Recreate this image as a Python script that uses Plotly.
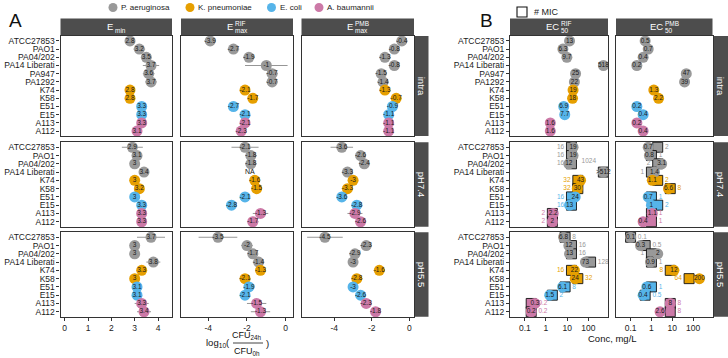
import numpy as np
import plotly.graph_objects as go

# ---------------- data ----------------
strains_intra = ["ATCC27853", "PAO1", "PA04/202", "PA14 Liberati", "PA947", "PA1292",
                 "K74", "K58", "E51", "E15", "A113", "A112"]
strains_ph = ["ATCC27853", "PAO1", "PA04/202", "PA14 Liberati",
              "K74", "K58", "E51", "E15", "A113", "A112"]
species_intra = ["P", "P", "P", "P", "P", "P", "K", "K", "E", "E", "A", "A"]
species_ph = ["P", "P", "P", "P", "K", "K", "E", "E", "A", "A"]

species_names = {"P": "P. aeruginosa", "K": "K. pneumoniae", "E": "E. coli", "A": "A. baumannii"}
species_colors = {"P": "#999999", "K": "#E69F00", "E": "#56B4E9", "A": "#CC79A7"}
conditions = ["intra", "pH7.4", "pH5.5"]

# Panel A: log10(CFU24h/CFU0h)
emin_intra = [2.8, 3.2, 3.5, 3.7, 3.6, 3.7, 2.8, 2.8, 3.3, 3.3, 3.3, 3.1]
emin_ph74 = [2.9, 3.1, 3.0, 3.4, 3.0, 3.2, 3.0, 3.3, 3.3, 3.3]
emin_ph55 = [3.7, 3.0, 3.0, 3.8, 3.3, 3.0, 3.1, 3.1, 3.3, 3.4]
emin_err_intra = [0.1, 0.25, 0.1, 0.35, 0.25, 0.25, 0, 0, 0, 0, 0, 0]
emin_err_ph74 = [0.45, 0, 0, 0, 0, 0, 0, 0.2, 0, 0]
emin_err_ph55 = [0.6, 0, 0, 0.3, 0, 0, 0, 0, 0.3, 0.3]

rif_intra = [-3.9, -2.7, -1.9, -1.0, -0.7, -0.7, -2.1, -1.7, -2.7, -2.1, -2.1, -2.3]
rif_ph74 = [-2.1, -1.8, -1.8, np.nan, -1.6, -1.5, -2.1, -2.8, -1.3, -1.7]
rif_ph55 = [-3.5, -2.0, -1.7, -1.4, -1.3, -2.1, -1.9, -2.1, -1.5, -1.3]
rif_err_intra = [0.3, 0.3, 0.3, 1.1, 0.3, 0.3, 0, 0, 0, 0, 0, 0]
rif_err_ph74 = [0.7, 0.3, 0.3, 0, 0, 0, 0, 0, 0.4, 0.3]
rif_err_ph55 = [1.0, 0.3, 0, 0.3, 0, 0.3, 0, 0, 0.5, 0.5]

pmb_intra = [-0.4, -0.8, -1.3, -0.8, -1.5, -1.4, -1.3, -0.7, -0.9, -1.1, -1.1, -1.1]
pmb_ph74 = [-3.6, -2.6, -2.4, -3.3, -3.0, -3.3, -3.6, -2.8, -2.9, -2.6]
pmb_ph55 = [-4.5, -2.3, -2.9, -3.0, -1.6, -2.8, -3.0, -2.6, -2.3, -1.8]
pmb_err_intra = [0.3, 0.2, 0.3, 0.3, 0.3, 0.3, 0.3, 0.3, 0.2, 0, 0, 0]
pmb_err_ph74 = [0.6, 0.2, 0, 0.3, 0, 0.3, 0, 0.3, 0.4, 0.3]
pmb_err_ph55 = [0.95, 0.3, 0.3, 0, 0.3, 0.3, 0, 0, 0.3, 0.3]

# Panel B: EC50 and MIC (mg/L)
ec50_rif_intra = [13, 6.3, 9.7, 518, 25, 22, 19, 18, 6.9, 7.7, 1.6, 1.6]
ec50_pmb_intra = [0.5, 0.7, 0.4, 0.2, 47, 39, 1.3, 2.2, 0.2, 0.4, 0.2, 0.4]
ec50_rif_ph74 = [19, 19, 12, 512, 43, 30, 24, 13, 2.2, 2]
mic_rif_ph74 = [16, 16, 16, 1024, 32, 32, 16, 16, 2, 2]
ec50_pmb_ph74 = [0.7, 0.8, 3.1, 1.4, 1.1, 6.6, 0.7, 1, 1.1, 0.4]
mic_pmb_ph74 = [2, 1, 2, 1, 2, 8, 1, 2, 1, 1]
ec50_rif_ph55 = [6.8, 12, 13, 73, 22, 24, 6.1, 1.5, 0.3, 0.2]
mic_rif_ph55 = [8, 16, 16, 128, 16, 32, 8, 2, 0.2, 0.2]
ec50_pmb_ph55 = [0.1, 0.3, 2, 0.9, 12, 200, 0.6, 0.4, 8, 2.6]
mic_pmb_ph55 = [0.1, 0.5, 1, 1, 8, 64, 1, 0.5, 8, 8]
censored_ec50 = {("rif", "pH7.4", "PA14 Liberati")}
ec50_err_factor = {("rif", "intra", "PA14 Liberati"): 1.5, ("pmb", "intra", "ATCC27853"): 1.4,
                   ("rif", "pH5.5", "PA14 Liberati"): 1.3}

# ---------------- layout helpers ----------------
W, H = 728, 358
FONT = "Liberation Sans, Arial, sans-serif"


def fx(x):
    return x / W


def fy(y):
    return 1 - y / H


col_px = {"A1": (60.5, 172), "A2": (181, 293), "A3": (301.5, 414),
          "B1": (510, 608), "B2": (616, 712.5)}
row_px = [(36, 136), (142.3, 226.7), (232.3, 316.7)]
cols = ["A1", "A2", "A3", "B1", "B2"]

panelA = {
    "A1": [(emin_intra, emin_err_intra), (emin_ph74, emin_err_ph74), (emin_ph55, emin_err_ph55)],
    "A2": [(rif_intra, rif_err_intra), (rif_ph74, rif_err_ph74), (rif_ph55, rif_err_ph55)],
    "A3": [(pmb_intra, pmb_err_intra), (pmb_ph74, pmb_err_ph74), (pmb_ph55, pmb_err_ph55)],
}
panelB = {
    "B1": [(ec50_rif_intra, None), (ec50_rif_ph74, mic_rif_ph74), (ec50_rif_ph55, mic_rif_ph55)],
    "B2": [(ec50_pmb_intra, None), (ec50_pmb_ph74, mic_pmb_ph74), (ec50_pmb_ph55, mic_pmb_ph55)],
}
drug_of = {"B1": "rif", "B2": "pmb"}

# MIC label placement (text beside the MIC box)
mic_side = {
    ("B1", 1): ["L", "L", "L", "TL", "L", "L", "L", "L", "L", "L"],
    ("B2", 1): ["R", "R", "L", "L", "R", "R", "R", "R", "R", "R"],
    ("B1", 2): ["R", "R", "R", "R", "L", "R", "R", "R", "R", "R"],
    ("B2", 2): ["R", "R", "L", "R", "L", "L", "R", "R", "R", "R"],
}
side_pos = {"L": "middle left", "R": "middle right", "TL": "top left"}

x_ranges = {"A1": [-0.18, 4.6], "A2": [-5.41, 0.38], "A3": [-5.75, 0.25],
            "B1": [-1.7, 2.93], "B2": [-1.7, 2.93]}
x_ticks = {"A1": [0, 1, 2, 3, 4], "A2": [-4, -2, 0], "A3": [-4, -2, 0],
           "B1": [0.1, 1, 10, 100], "B2": [0.1, 1, 10, 100]}


def fmt(v):
    return f"{v:g}"


fig = go.Figure()
layout = {}
shapes = []
annotations = []

k = 0
for r, cond in enumerate(conditions):
    strains = strains_intra if r == 0 else strains_ph
    species = species_intra if r == 0 else species_ph
    n = len(strains)
    idx = list(range(n))
    colors = [species_colors[s] for s in species]
    for c in cols:
        k += 1
        xa = "x" if k == 1 else f"x{k}"
        ya = "y" if k == 1 else f"y{k}"
        xname = "xaxis" if k == 1 else f"xaxis{k}"
        yname = "yaxis" if k == 1 else f"yaxis{k}"
        x0, x1 = col_px[c]
        y0, y1 = row_px[r]
        bottom = (r == 2)
        left = c in ("A1", "B1")
        xax = dict(domain=[fx(x0), fx(x1)], anchor=ya, range=x_ranges[c],
                   showline=True, mirror=True, linecolor="#333333", linewidth=1.1,
                   showgrid=False, zeroline=False,
                   tickvals=x_ticks[c], ticktext=[fmt(t) for t in x_ticks[c]],
                   ticks="outside" if bottom else "", ticklen=3, tickcolor="#333333",
                   showticklabels=bottom, tickfont=dict(size=8.5, color="#222222", family=FONT))
        if c.startswith("B"):
            xax["type"] = "log"
        yax = dict(domain=[fy(y1), fy(y0)], anchor=xa, range=[n - 0.4, -0.6],
                   showline=True, mirror=True, linecolor="#333333", linewidth=1.1,
                   showgrid=False, zeroline=False, tickvals=idx, ticktext=strains,
                   ticks="outside" if left else "", ticklen=3, tickcolor="#333333",
                   showticklabels=left, tickfont=dict(size=8.5, color="#1a1a1a", family=FONT))
        layout[xname] = xax
        layout[yname] = yax

        if c.startswith("A"):
            vals, errs = panelA[c][r]
            labels = [" " if np.isnan(v) else fmt(v) for v in vals]
            fig.add_trace(go.Scatter(
                x=vals, y=idx, mode="markers+text", text=labels, textposition="middle center",
                textfont=dict(size=6.5, color="#1a1a1a", family=FONT),
                marker=dict(size=11, color=colors, line=dict(width=0)),
                error_x=dict(type="data", array=errs, symmetric=True, color="#8a8a8a",
                             thickness=0.9, width=0),
                xaxis=xa, yaxis=ya, showlegend=False, cliponaxis=False, hoverinfo="skip"))
            na_idx = [i for i, v in enumerate(vals) if np.isnan(v)]
            if na_idx:
                fig.add_trace(go.Scatter(
                    x=[np.nanmean(vals)] * len(na_idx), y=na_idx, mode="text", text=["NA"] * len(na_idx),
                    textfont=dict(size=7, color="#111111", family=FONT),
                    xaxis=xa, yaxis=ya, showlegend=False, hoverinfo="skip"))
        else:
            ec50, mic = panelB[c][r]
            drug = drug_of[c]
            if mic is not None:
                sides = mic_side[(c, r)]
                fig.add_trace(go.Scatter(
                    x=[min(m, 512) for m in mic], y=idx, mode="markers+text",
                    text=[fmt(m) for m in mic], textposition=[side_pos[s] for s in sides],
                    textfont=dict(size=6.5, color=colors, family=FONT),
                    marker=dict(symbol="square", size=10, color=colors,
                                line=dict(width=0.9, color="#111111")),
                    xaxis=xa, yaxis=ya, showlegend=False, cliponaxis=False, hoverinfo="skip"))
            lab = []
            em, ep = [], []
            for s, v in zip(strains, ec50):
                lab.append((">" if (drug, cond, s) in censored_ec50 else "") + fmt(v))
                f = ec50_err_factor.get((drug, cond, s), 1.0)
                em.append(v - v / f)
                ep.append(v * f - v)
            fig.add_trace(go.Scatter(
                x=ec50, y=idx, mode="markers+text", text=lab, textposition="middle center",
                textfont=dict(size=6.5, color="#1a1a1a", family=FONT),
                marker=dict(size=11, color=colors, line=dict(width=0)),
                error_x=dict(type="data", array=ep, arrayminus=em, symmetric=False,
                             color="#8a8a8a", thickness=0.9, width=0),
                xaxis=xa, yaxis=ya, showlegend=False, cliponaxis=False, hoverinfo="skip"))

# ---------------- strips ----------------
STRIP = "#4d4d4d"
sy0, sy1 = 18.5, 35
for c in cols:
    x0, x1 = col_px[c]
    shapes.append(dict(type="rect", xref="paper", yref="paper", x0=fx(x0), x1=fx(x1),
                       y0=fy(sy1), y1=fy(sy0), fillcolor=STRIP, line=dict(width=0), layer="below"))


def strip_text(cx, main, sup, sub, main_w, small_w):
    total = main_w + small_w
    xe = cx - total / 2 + main_w
    yc = fy((sy0 + sy1) / 2)
    annotations.append(dict(x=fx(xe), y=yc, xref="paper", yref="paper", text=main, showarrow=False,
                            xanchor="right", yanchor="middle", xshift=1,
                            font=dict(size=9.5, color="white", family=FONT)))
    if sup:
        annotations.append(dict(x=fx(xe), y=yc, xref="paper", yref="paper", text=sup, showarrow=False,
                                xanchor="left", yanchor="middle", yshift=3.5, xshift=-1,
                                font=dict(size=6.5, color="white", family=FONT)))
    if sub:
        annotations.append(dict(x=fx(xe), y=yc, xref="paper", yref="paper", text=sub, showarrow=False,
                                xanchor="left", yanchor="middle", yshift=-3.5, xshift=-1,
                                font=dict(size=6.5, color="white", family=FONT)))


cx = lambda c: (col_px[c][0] + col_px[c][1]) / 2
strip_text(cx("A1"), "E", None, "min", 7, 11)
strip_text(cx("A2"), "E", "RIF", "max", 7, 13)
strip_text(cx("A3"), "E", "PMB", "max", 7, 14)
strip_text(cx("B1"), "EC", "RIF", "50", 14, 12)
strip_text(cx("B2"), "EC", "PMB", "50", 14, 14)

right_strips = [(414.5, 428.5), (713.5, 728)]
for r, cond in enumerate(conditions):
    y0, y1 = row_px[r]
    for rx0, rx1 in right_strips:
        shapes.append(dict(type="rect", xref="paper", yref="paper", x0=fx(rx0), x1=fx(rx1),
                           y0=fy(y1), y1=fy(y0), fillcolor=STRIP, line=dict(width=0), layer="below",
                           label=dict(text=cond, textangle=90, textposition="middle center",
                                      font=dict(size=9.5, color="white", family=FONT))))

# ---------------- legends ----------------
leg_y = 7.5
leg_items = [("P", 113), ("K", 190), ("E", 271.5), ("A", 319)]
for sp, lx in leg_items:
    shapes.append(dict(type="circle", xref="paper", yref="paper",
                       x0=fx(lx - 4.5), x1=fx(lx + 4.5), y0=fy(leg_y + 4.5), y1=fy(leg_y - 4.5),
                       fillcolor=species_colors[sp], line=dict(width=0)))
    annotations.append(dict(x=fx(lx + 6), y=fy(leg_y), xref="paper", yref="paper",
                            text=species_names[sp], showarrow=False, xanchor="left", yanchor="middle",
                            font=dict(size=8, color="#222222", family=FONT)))
shapes.append(dict(type="rect", xref="paper", yref="paper", x0=fx(517), x1=fx(527),
                   y0=fy(17), y1=fy(7), fillcolor="white", line=dict(width=1.1, color="#111111")))
annotations.append(dict(x=fx(532), y=fy(12), xref="paper", yref="paper", text="# MIC",
                        showarrow=False, xanchor="left", yanchor="middle",
                        font=dict(size=9, color="#222222", family=FONT)))

# panel letters
for letter, lx in (("A", 15), ("B", 487)):
    annotations.append(dict(x=fx(lx), y=fy(21), xref="paper", yref="paper", text=letter,
                            showarrow=False, xanchor="center", yanchor="middle",
                            font=dict(size=19, color="#111111", family=FONT)))

# axis titles
annotations.append(dict(x=fx(232), y=fy(343), xref="paper", yref="paper", text="log<sub>10</sub>(",
                        showarrow=False, xanchor="right", yanchor="middle",
                        font=dict(size=9.5, color="#111111", family=FONT)))
annotations.append(dict(x=fx(247), y=fy(335), xref="paper", yref="paper", text="CFU<sub>24h</sub>",
                        showarrow=False, xanchor="center", yanchor="middle",
                        font=dict(size=9, color="#111111", family=FONT)))
annotations.append(dict(x=fx(247), y=fy(351.5), xref="paper", yref="paper", text="CFU<sub>0h</sub>",
                        showarrow=False, xanchor="center", yanchor="middle",
                        font=dict(size=9, color="#111111", family=FONT)))
annotations.append(dict(x=fx(264), y=fy(343), xref="paper", yref="paper", text=")",
                        showarrow=False, xanchor="left", yanchor="middle",
                        font=dict(size=9.5, color="#111111", family=FONT)))
shapes.append(dict(type="line", xref="paper", yref="paper", x0=fx(233), x1=fx(263),
                   y0=fy(343), y1=fy(343), line=dict(width=0.8, color="#111111")))
annotations.append(dict(x=fx(612), y=fy(338), xref="paper", yref="paper", text="Conc, mg/L",
                        showarrow=False, xanchor="center", yanchor="middle",
                        font=dict(size=9.5, color="#111111", family=FONT)))

fig.update_layout(width=W, height=H, margin=dict(l=0, r=0, t=0, b=0),
                  paper_bgcolor="white", plot_bgcolor="white", showlegend=False,
                  shapes=shapes, annotations=annotations, font=dict(family=FONT), **layout)
fig.write_html("out.html")
